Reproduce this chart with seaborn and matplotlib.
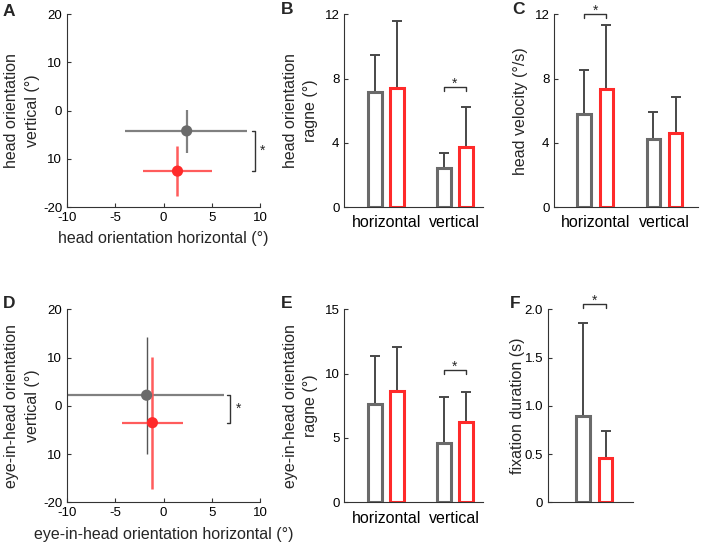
import numpy as np
import pandas as pd
import matplotlib
matplotlib.use("Agg")
import matplotlib.pyplot as plt
import seaborn as sns

# ---------------- data ----------------
conditions = ["cond1", "cond2"]
directions = ["horizontal", "vertical"]

# A: head orientation (mean and error-bar ends)
head_h_mean = [2.4, 1.45]
head_h_low = [-4.0, -2.1]
head_h_high = [8.7, 5.0]
head_v_mean = [-4.2, -12.55]
head_v_low = [-8.7, -17.7]
head_v_high = [0.1, -7.4]

# D: eye-in-head orientation
eih_h_mean = [-1.75, -1.15]
eih_h_low = [-10.0, -4.3]
eih_h_high = [6.3, 2.0]
eih_v_mean = [2.2, -3.5]
eih_v_low = [-9.9, -17.3]
eih_v_high = [14.3, 10.2]

# B: head orientation range
head_range_h = [7.15, 7.43]
head_range_v = [2.45, 3.76]
head_range_h_top = [9.44, 11.58]
head_range_v_top = [3.38, 6.24]

# C: head velocity
head_vel_h = [5.81, 7.32]
head_vel_v = [4.23, 4.63]
head_vel_h_top = [8.55, 11.33]
head_vel_v_top = [5.89, 6.85]

# E: eye-in-head orientation range
eih_range_h = [7.64, 8.68]
eih_range_v = [4.61, 6.24]
eih_range_h_top = [11.4, 12.1]
eih_range_v_top = [8.16, 8.55]

# F: fixation duration
fix_dur = [0.898, 0.463]
fix_dur_top = [1.858, 0.739]

scatter_ticks_y = [-20, -10, 0, 10, 20]
scatter_ticklabels_y = ["-20", "10", "0", "10", "20"]
scatter_ticks_x = [-10, -5, 0, 5, 10]

# ---------------- style ----------------
sns.set_style("ticks")
plt.rcParams["font.family"] = ["Liberation Sans", "DejaVu Sans"]
plt.rcParams["axes.edgecolor"] = "#333333"
plt.rcParams["axes.linewidth"] = 0.8
plt.rcParams["xtick.direction"] = "in"
plt.rcParams["ytick.direction"] = "in"
plt.rcParams["xtick.major.size"] = 3
plt.rcParams["ytick.major.size"] = 3
plt.rcParams["xtick.major.width"] = 0.8
plt.rcParams["ytick.major.width"] = 0.8
plt.rcParams["xtick.color"] = "#333333"
plt.rcParams["ytick.color"] = "#333333"
plt.rcParams["xtick.labelcolor"] = "black"
plt.rcParams["ytick.labelcolor"] = "black"

GREY = "#6a6a6a"
RED = "#ff2a2a"
GREY_ERR = "#808080"
RED_ERR = "#ff5c5c"
BAR_ERR = "#474747"
TICK_FS = 9.5
LABEL_FS = 11.5
LSP = 1.45

fig = plt.figure(figsize=(7.04, 5.42), dpi=100)
W, H = 704.0, 542.0


def add_ax(left, top, right, bottom):
    return fig.add_axes([left / W, 1 - bottom / H, (right - left) / W, (bottom - top) / H])


def style_ax(ax):
    sns.despine(ax=ax)
    ax.tick_params(labelsize=TICK_FS)


def scatter_panel(ax, hm, hl, hh, vm, vl, vh, xlabel, ylabel, grey_vlw, bracket_x, star_x):
    df = pd.DataFrame({"x": hm, "y": vm, "cond": conditions})
    errs = [
        (GREY_ERR, 1.6, "#555555" if grey_vlw < 1.5 else GREY_ERR, grey_vlw),
        (RED_ERR, 1.6, RED_ERR, 1.8),
    ]
    for i in range(2):
        hc, hlw, vc, vlw = errs[i]
        ax.errorbar([hm[i]], [vm[i]], xerr=[[hm[i] - hl[i]], [hh[i] - hm[i]]],
                    fmt="none", ecolor=hc, elinewidth=hlw, capsize=0, zorder=2)
        ax.errorbar([hm[i]], [vm[i]], yerr=[[vm[i] - vl[i]], [vh[i] - vm[i]]],
                    fmt="none", ecolor=vc, elinewidth=vlw, capsize=0, zorder=2)
    sns.scatterplot(data=df, x="x", y="y", hue="cond", palette=[GREY, RED],
                    s=65, linewidth=0, legend=False, ax=ax, zorder=3)
    ax.set_xlim(-10, 10)
    ax.set_ylim(-20, 20)
    ax.set_xticks(scatter_ticks_x)
    ax.set_xticklabels([str(t) for t in scatter_ticks_x])
    ax.set_yticks(scatter_ticks_y)
    ax.set_yticklabels(scatter_ticklabels_y)
    ax.set_xlabel(xlabel, fontsize=LABEL_FS, labelpad=5.5)
    ax.set_ylabel(ylabel, fontsize=LABEL_FS, labelpad=2.2, linespacing=LSP)
    style_ax(ax)
    # significance bracket
    y1, y2 = vm[0], vm[1]
    tick = 0.35
    ax.plot([bracket_x - tick, bracket_x, bracket_x, bracket_x - tick], [y1, y1, y2, y2],
            color="#333333", lw=1.0, clip_on=False)
    ax.text(star_x, (y1 + y2) / 2, "*", ha="center", va="center", fontsize=10)


def bar_panel(ax, cats, values, tops, ylim, yticks, yticklabels, ylabel, xlim, sig_pair, sig_y,
              ylabelpad, show_cat=True):
    rows = []
    for ci, cat in enumerate(cats):
        for k, cond in enumerate(conditions):
            rows.append({"cat": cat, "cond": cond, "val": values[ci][k]})
    df = pd.DataFrame(rows)
    sns.barplot(data=df, x="cat", y="val", hue="cond", hue_order=conditions,
                order=cats, palette=[GREY, RED], width=0.64, gap=0.375,
                errorbar=None, legend=False, ax=ax)
    patches = [p for p in ax.patches if p.get_width() > 0]
    centers = {}
    n = len(cats)
    for idx, p in enumerate(patches[: 2 * n]):
        k = idx // n
        ci = idx % n
        p.set_facecolor("white")
        p.set_edgecolor(GREY if k == 0 else RED)
        p.set_linewidth(2.2)
        p.set_zorder(2)
        xc = p.get_x() + p.get_width() / 2
        centers[(ci, k)] = xc
        v = values[ci][k]
        t = tops[ci][k]
        ax.errorbar([xc], [v], yerr=[[0], [t - v]], fmt="none", ecolor=BAR_ERR,
                    elinewidth=1.4, capsize=3.5, capthick=1.4, zorder=1)
    ax.set_xlim(*xlim)
    ax.set_ylim(*ylim)
    ax.set_yticks(yticks)
    ax.set_yticklabels(yticklabels)
    ax.set_ylabel(ylabel, fontsize=LABEL_FS, labelpad=ylabelpad, linespacing=LSP)
    ax.set_xlabel("")
    style_ax(ax)
    ax.tick_params(axis="x", length=0, labelsize=LABEL_FS, pad=6)
    if not show_cat:
        ax.set_xticklabels([])
    # significance bracket
    ci = sig_pair
    xa, xb = centers[(ci, 0)], centers[(ci, 1)]
    d = (ylim[1] - ylim[0]) * 0.02
    ax.plot([xa, xa, xb, xb], [sig_y - d, sig_y, sig_y, sig_y - d], color="#333333",
            lw=1.0, clip_on=False)
    ax.text((xa + xb) / 2, sig_y, "*", ha="center", va="baseline", fontsize=10,
            clip_on=False)


# A
axA = add_ax(67, 14.3, 260, 207)
scatter_panel(axA, head_h_mean, head_h_low, head_h_high, head_v_mean, head_v_low, head_v_high,
              "head orientation horizontal (°)", "head orientation\nvertical (°)", 1.6, 9.5, 10.3)

# D
axD = add_ax(67, 309.3, 260, 502.3)
scatter_panel(axD, eih_h_mean, eih_h_low, eih_h_high, eih_v_mean, eih_v_low, eih_v_high,
              "eye-in-head orientation horizontal (°)", "eye-in-head orientation\nvertical (°)",
              1.0, 6.9, 7.8)

# B
axB = add_ax(344.3, 14.3, 483, 207)
bar_panel(axB, directions, [head_range_h, head_range_v], [head_range_h_top, head_range_v_top],
          (0, 12), [0, 4, 8, 12], ["0", "4", "8", "12"], "head orientation\nragne (°)",
          (-0.61, 1.41), 1, 7.45, 4.4)

# C
axC = add_ax(554.3, 14.3, 697.7, 207)
bar_panel(axC, directions, [head_vel_h, head_vel_v], [head_vel_h_top, head_vel_v_top],
          (0, 12), [0, 4, 8, 12], ["0", "4", "8", "12"], "head velocity (°/s)",
          (-0.595, 1.48), 0, 12.0, 4.4)

# E
axE = add_ax(344.3, 309.3, 483, 502.3)
bar_panel(axE, directions, [eih_range_h, eih_range_v], [eih_range_h_top, eih_range_v_top],
          (0, 15), [0, 5, 10, 15], ["0", "5", "10", "15"], "eye-in-head orientation\nragne (°)",
          (-0.61, 1.41), 1, 10.26, 4.4)

# F
axF = add_ax(548, 309.3, 633.3, 502.3)
bar_panel(axF, [""], [fix_dur], [fix_dur_top],
          (0, 2.0), [0, 0.5, 1.0, 1.5, 2.0], ["0", "0.5", "1.0", "1.5", "2.0"],
          "fixation duration (s)", (-0.67, 0.56), 0, 2.05, 0.0, show_cat=False)

# panel letters
for letter, x, y in [("A", 3, 11), ("B", 281, 10), ("C", 512, 10),
                     ("D", 3, 303), ("E", 281, 303), ("F", 510, 303)]:
    fig.text(x / W, 1 - y / H, letter, fontsize=12.5, fontweight="bold", ha="left", va="center")

fig.savefig("out.png", dpi=100)
